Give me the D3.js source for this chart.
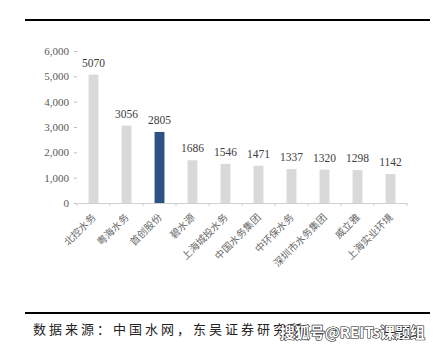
<!DOCTYPE html>
<html>
<head>
<meta charset="utf-8">
<script src="https://cdn.jsdelivr.net/npm/d3@7"></script>
<style>
  body { margin: 0; background: #fff; }
  svg { display: block; }
</style>
</head>
<body>
<div id="chart"></div>
<script>
const companies = ['北控水务', '粤海水务', '首创股份', '碧水源', '上海城投水务', '中国水务集团', '中环保水务', '深圳市水务集团', '威立雅', '上海实业环境'];
const capacity = [5070, 3056, 2805, 1686, 1546, 1471, 1337, 1320, 1298, 1142];
const highlight = '首创股份';
const yTicks = [0, 1000, 2000, 3000, 4000, 5000, 6000];

const W = 439, H = 351;
const margin = { top: 51, right: 32, bottom: 148, left: 77 };
const width = W - margin.left - margin.right;
const height = H - margin.top - margin.bottom;

const svg = d3.select('#chart').append('svg')
    .attr('width', W)
    .attr('height', H);

// top rule
svg.append('line')
    .attr('x1', 25).attr('x2', 430)
    .attr('y1', 20).attr('y2', 20)
    .attr('stroke', '#000').attr('stroke-width', 2);

const g = svg.append('g')
    .attr('transform', `translate(${margin.left},${margin.top})`);

const x = d3.scaleBand()
    .domain(companies)
    .range([0, width])
    .paddingInner(0.7)
    .paddingOuter(0.35);

const y = d3.scaleLinear()
    .domain([0, 6000])
    .range([height, 0]);

const yAxis = g.append('g')
    .call(d3.axisLeft(y).tickValues(yTicks).tickFormat(d3.format(',')).tickSize(3).tickPadding(5));
yAxis.select('.domain').remove();
yAxis.selectAll('line').attr('stroke', '#bfbfbf');
yAxis.selectAll('text')
    .style('font-family', '"Liberation Serif", serif')
    .style('font-size', '11px')
    .attr('fill', '#595959');

const xAxis = g.append('g')
    .attr('transform', `translate(0,${height})`)
    .call(d3.axisBottom(x).tickSize(0).tickFormat(''));
xAxis.select('.domain').attr('stroke', '#d0d0d0');

// small tick separators between categories
g.append('g').selectAll('line')
    .data(d3.range(companies.length + 1))
    .join('line')
    .attr('x1', i => i * width / companies.length)
    .attr('x2', i => i * width / companies.length)
    .attr('y1', height)
    .attr('y2', height + 3)
    .attr('stroke', '#d0d0d0');

g.selectAll('rect.bar')
    .data(companies)
    .join('rect')
    .attr('class', 'bar')
    .attr('x', d => x(d))
    .attr('width', x.bandwidth())
    .attr('y', (d, i) => y(capacity[i]))
    .attr('height', (d, i) => height - y(capacity[i]))
    .attr('fill', d => d === highlight ? '#2f5285' : '#d9d9d9');

g.selectAll('text.value')
    .data(companies)
    .join('text')
    .attr('class', 'value')
    .attr('x', d => x(d) + x.bandwidth() / 2)
    .attr('y', (d, i) => y(capacity[i]) - 8)
    .attr('text-anchor', 'middle')
    .style('font-family', '"Liberation Serif", serif')
    .style('font-size', '11.5px')
    .attr('fill', '#404040')
    .text((d, i) => capacity[i]);

g.selectAll('text.cat')
    .data(companies)
    .join('text')
    .attr('class', 'cat')
    .attr('transform', d => `translate(${x(d) + x.bandwidth() / 2 + 3},${height + 15}) rotate(-45)`)
    .attr('text-anchor', 'end')
    .style('font-family', '"Noto Sans CJK SC", sans-serif')
    .style('font-size', '10px')
    .attr('fill', '#6a6a6a')
    .text(d => d);

// source rule and note
svg.append('line')
    .attr('x1', 25).attr('x2', 430)
    .attr('y1', 313).attr('y2', 313)
    .attr('stroke', '#000').attr('stroke-width', 2);

svg.append('text')
    .attr('x', 33).attr('y', 334)
    .style('font-family', '"Noto Sans CJK SC", sans-serif')
    .style('font-size', '13px')
    .style('letter-spacing', '3px')
    .attr('fill', '#222')
    .text('数据来源：中国水网，东吴证券研究所');

svg.append('text')
    .attr('x', 425).attr('y', 338)
    .attr('text-anchor', 'end')
    .style('font-family', '"Noto Sans CJK SC", sans-serif')
    .style('font-size', '15px')
    .style('font-weight', 'bold')
    .attr('fill', '#fff')
    .attr('stroke', '#222')
    .attr('stroke-width', 1.2)
    .attr('paint-order', 'stroke')
    .text('搜狐号@REITs课题组');
</script>
</body>
</html>
